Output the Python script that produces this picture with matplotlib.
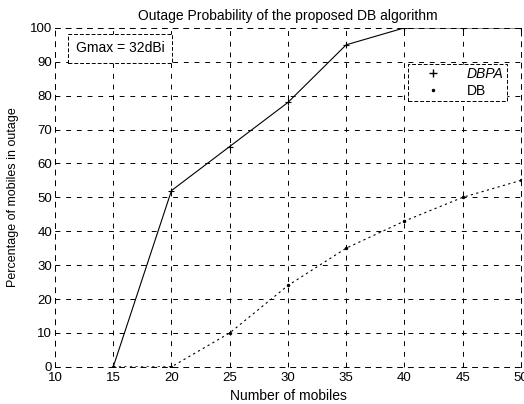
import matplotlib
matplotlib.use('Agg')
import matplotlib.pyplot as plt
from matplotlib.lines import Line2D

plt.rcParams['font.family'] = ['Liberation Sans', 'DejaVu Sans']

# data
mobiles = [15, 20, 25, 30, 35, 40, 45, 50]
dbpa = [0, 52, 65, 78, 95, 100, 100, 100]
db = [0, 0, 10, 24, 35, 43, 50, 55]

x_ticks = [10, 15, 20, 25, 30, 35, 40, 45, 50]
y_ticks = [0, 10, 20, 30, 40, 50, 60, 70, 80, 90, 100]

fig = plt.figure(figsize=(5.24, 4.04), dpi=100)
ax = fig.add_axes([0.105, 0.092, 0.889, 0.839])

ax.plot(mobiles, dbpa, color='black', linestyle='-', linewidth=0.8,
        marker='+', markersize=5, markeredgewidth=0.8)
ax.plot(mobiles, db, color='black', linestyle=(0, (2, 3)), linewidth=0.8,
        marker='.', markersize=3)

ax.set_xlim(10, 50)
ax.set_ylim(0, 100)
ax.set_xticks(x_ticks)
ax.set_yticks(y_ticks)
ax.tick_params(labelsize=9.5, length=3, width=0.6, direction='in')
ax.tick_params(axis='x', pad=4)
ax.tick_params(axis='y', pad=2)
ax.grid(True, color='black', linestyle=(0, (5, 6)), linewidth=0.7)
for sp in ax.spines.values():
    sp.set_linestyle((0, (5, 6)))
    sp.set_linewidth(0.7)

ax.set_title('Outage Probability of the proposed DB algorithm', fontsize=10, pad=6)
ax.set_xlabel('Number of mobiles', fontsize=10, labelpad=3)
ax.set_ylabel('Percentage of mobiles in outage', fontsize=9, labelpad=8)

handles = [
    Line2D([], [], color='black', linestyle='none', marker='+', markersize=6),
    Line2D([], [], color='black', linestyle='none', marker='.', markersize=3),
]
leg = ax.legend(handles, ['DBPA', 'DB'], loc='upper right',
                bbox_to_anchor=(0.985, 0.915), fontsize=10, fancybox=False,
                framealpha=1, edgecolor='black', handlelength=3.2,
                borderpad=0.25, labelspacing=0.2)
leg.get_frame().set_linestyle((0, (4, 2)))
leg.get_frame().set_linewidth(0.7)
leg.get_texts()[0].set_fontstyle('italic')

ax.text(0.045, 0.94, 'Gmax = 32dBi', transform=ax.transAxes, fontsize=10,
        va='center', ha='left',
        bbox=dict(boxstyle='square,pad=0.55', facecolor='white',
                  edgecolor='black', linewidth=0.7, linestyle=(0, (4, 2))))

fig.savefig('out.png', dpi=100)
